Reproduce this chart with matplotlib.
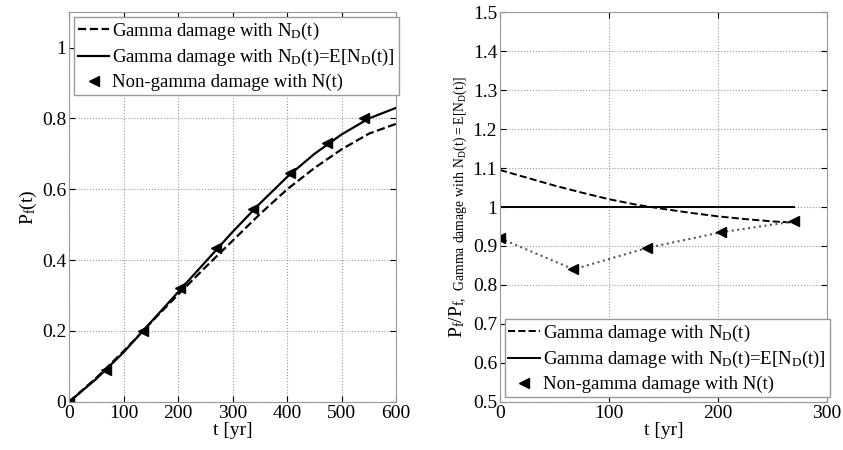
import matplotlib
matplotlib.use("Agg")
import matplotlib.pyplot as plt

plt.rcParams['font.family'] = ['Liberation Serif', 'DejaVu Serif']
plt.rcParams['mathtext.fontset'] = 'custom'
plt.rcParams['mathtext.rm'] = 'Liberation Serif'
plt.rcParams['mathtext.default'] = 'regular'

# left panel: failure probability curves
t_curve = [0, 50, 100, 150, 200, 250, 300, 350, 400, 450, 500, 550, 600]
pf_gamma = [0, 0.068, 0.143, 0.224, 0.303, 0.38, 0.455, 0.53, 0.60, 0.66, 0.713, 0.757, 0.785]
pf_gamma_mean = [0, 0.065, 0.14, 0.225, 0.31, 0.395, 0.48, 0.56, 0.635, 0.70, 0.755, 0.80, 0.83]
t_marks = [0, 67.5, 135, 202.5, 270, 337.5, 405, 472.5, 540]
pf_nongamma = [0, 0.09, 0.2, 0.32, 0.435, 0.545, 0.645, 0.73, 0.80]

# right panel: ratios to the mean-N_D case
t_ratio = [0, 25, 50, 75, 100, 125, 150, 175, 200, 225, 250, 270]
ratio_gamma = [1.095, 1.075, 1.055, 1.037, 1.02, 1.006, 0.995, 0.985, 0.976, 0.969, 0.963, 0.96]
ratio_mean = [1.0] * len(t_ratio)
t_ratio_marks = [0, 67.5, 135, 202.5, 270]
ratio_nongamma = [0.92, 0.84, 0.895, 0.935, 0.963]

lab1 = r'Gamma damage with N$_D$(t)'
lab2 = r'Gamma damage with N$_D$(t)=E[N$_D$(t)]'
lab3 = 'Non-gamma damage with N(t)'

fig = plt.figure(figsize=(8.43, 4.5), dpi=100)
ax1 = fig.add_axes([0.082, 0.107, 0.388, 0.866])
ax2 = fig.add_axes([0.593, 0.107, 0.388, 0.866])

leg_kw = dict(fontsize=13.5, handlelength=1.7, handletextpad=0.15, borderaxespad=0.25,
              labelspacing=0.3, fancybox=False, edgecolor='0.6', framealpha=1,
              borderpad=0.2)

ax1.plot(t_curve, pf_gamma, 'k--', lw=1.6, label=lab1)
ax1.plot(t_curve, pf_gamma_mean, 'k-', lw=1.6, label=lab2)
ax1.plot(t_marks, pf_nongamma, 'k<', ms=7, ls='none', label=lab3)
ax1.set_xlim(0, 600)
ax1.set_ylim(0, 1.1)
ax1.set_xticks(range(0, 601, 100))
ax1.set_yticks([0, 0.2, 0.4, 0.6, 0.8, 1])
ax1.set_yticklabels(['0', '0.2', '0.4', '0.6', '0.8', '1'])
ax1.set_xlabel('t [yr]', fontsize=14, labelpad=0)
ax1.set_ylabel(r'P$_f$(t)', fontsize=14, labelpad=2)
ax1.legend(loc='upper left', **leg_kw)

ax2.plot(t_ratio, ratio_gamma, 'k--', lw=1.4, label=lab1)
ax2.plot(t_ratio, ratio_mean, 'k-', lw=1.4, label=lab2)
ax2.plot(t_ratio_marks, ratio_nongamma, color='0.35', ls=':', lw=1.5,
         marker='<', ms=7, mfc='k', mec='k', label=lab3)
ax2.set_xlim(0, 300)
ax2.set_ylim(0.5, 1.5)
ax2.set_xticks([0, 100, 200, 300])
yt = [0.5, 0.6, 0.7, 0.8, 0.9, 1.0, 1.1, 1.2, 1.3, 1.4, 1.5]
ax2.set_yticks(yt)
ax2.set_yticklabels(['0.5', '0.6', '0.7', '0.8', '0.9', '1', '1.1', '1.2', '1.3', '1.4', '1.5'])
ax2.set_xlabel('t [yr]', fontsize=14, labelpad=0)
ax2.set_ylabel(r'P$_f$/P$_{f,\ Gamma\ damage\ with\ N_D(t)=E[N_D(t)]}$',
               fontsize=14, labelpad=2)
h, l = ax2.get_legend_handles_labels()
leg_handles = [h[0], h[1], plt.Line2D([], [], color='k', marker='<', ms=7, ls='none')]
ax2.legend(leg_handles, l, loc='lower left', **leg_kw)

for ax in (ax1, ax2):
    ax.grid(True, ls=':', color='0.6', lw=0.8)
    ax.tick_params(direction='in', labelsize=14, length=4, top=True, right=True, pad=2)
    for s in ax.spines.values():
        s.set_color('0.6')

fig.savefig('out.png', dpi=100)
